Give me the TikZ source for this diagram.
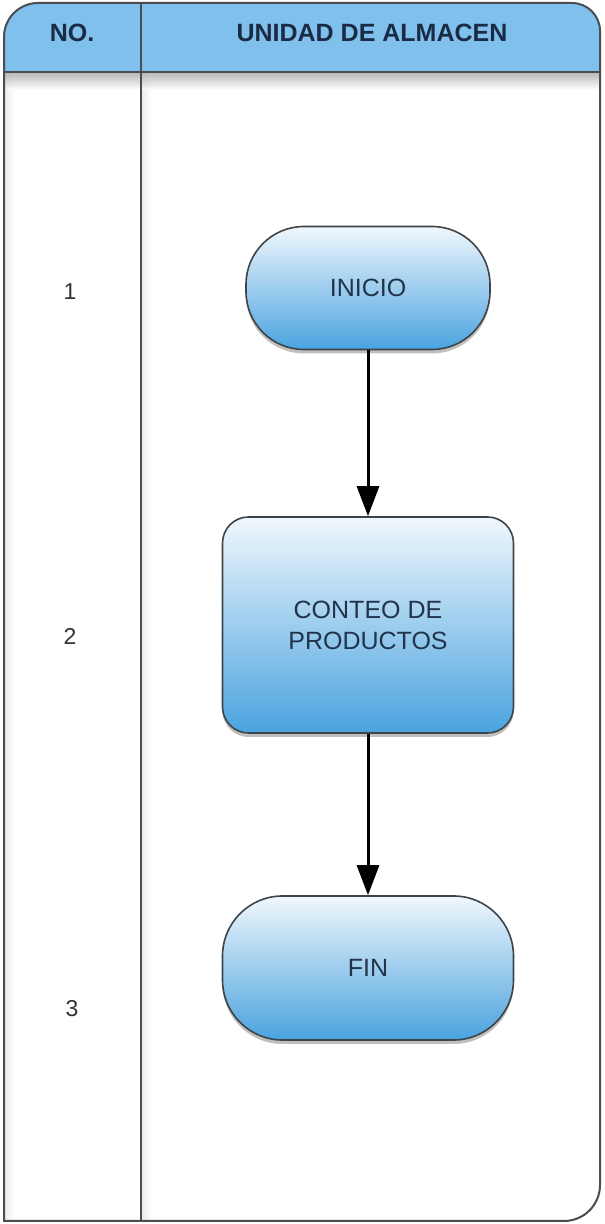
\documentclass[tikz,border=0pt]{standalone}
\usepackage{fontspec}
\setmainfont{Liberation Sans}
\usetikzlibrary{arrows.meta,shadows,positioning}
\definecolor{hdr}{HTML}{7FC0EC}
\definecolor{hdrtext}{HTML}{1B2B45}
\definecolor{nodetop}{HTML}{F0F7FD}
\definecolor{nodebot}{HTML}{4AA3DF}
\definecolor{edge}{HTML}{3F4448}
\definecolor{txt}{HTML}{22344C}
\definecolor{frame}{HTML}{4A4E52}
\tikzset{
  flowbox/.style={draw=edge, line width=1.6pt, top color=nodetop, bottom color=nodebot,
    text=txt, font=\fontsize{25}{31}\selectfont, align=center, inner sep=0pt,
    drop shadow={shadow xshift=0pt, shadow yshift=-4pt, opacity=0.25, fill=black}},
  terminal/.style={flowbox, rounded corners=58pt},
  process/.style={flowbox, rounded corners=26pt},
  flow/.style={draw=black, line width=3pt, -{Triangle[width=22pt,length=30pt]}},
  hdrlabel/.style={font=\fontsize{25}{29}\selectfont\bfseries, text=hdrtext},
  numlabel/.style={font=\fontsize{23}{27}\selectfont, text=black!80},
}
\begin{document}
\begin{tikzpicture}[x=1pt,y=1pt]
\useasboundingbox (0,0) rectangle (605,1224);
\fill[white] (0,0) rectangle (605,1224);
% header fill clipped to frame
\begin{scope}
  \clip (4,3) -- (4,1187) arc[start angle=180,end angle=90,radius=34] -- (572,1221)
        arc[start angle=90,end angle=0,radius=28] -- (600,39)
        arc[start angle=0,end angle=-90,radius=36] -- cycle;
  \shade[left color=black!8, right color=white] (4,0) rectangle (14,1152);
  \shade[left color=black!8, right color=white] (142,0) rectangle (152,1152);
  \shade[top color=black!35, bottom color=white, opacity=0.8] (0,1152) rectangle (605,1134);
  \fill[hdr] (0,1152) rectangle (605,1224);
\end{scope}
% header bottom line and column divider
\draw[frame, line width=1.8pt] (4,1152) -- (600,1152);
\draw[frame, line width=1.8pt] (141,3) -- (141,1221);
% outer frame
\draw[frame, line width=2pt] (4,3) -- (4,1187) arc[start angle=180,end angle=90,radius=34] -- (572,1221)
        arc[start angle=90,end angle=0,radius=28] -- (600,39)
        arc[start angle=0,end angle=-90,radius=36] -- cycle;
% header labels
\node[hdrlabel] (hno) at (72,1191) {NO.};
\node[hdrlabel] (hunit) at (372,1191) {UNIDAD DE ALMACEN};
% row numbers
\node[numlabel] (n1) at (70,932) {1};
\node[numlabel] (n2) at (70,588) {2};
\node[numlabel] (n3) at (72,215) {3};
% flow nodes
\node[terminal, minimum width=244pt, minimum height=123pt] (inicio) at (368,936) {INICIO};
\node[process, minimum width=291pt, minimum height=216pt] (conteo) at (368,599) {CONTEO DE\\PRODUCTOS};
\node[terminal, rounded corners=60pt, minimum width=291pt, minimum height=144pt] (fin) at (368,256) {FIN};
% connectors
\draw[flow] (inicio.south) -- (conteo.north);
\draw[flow] (conteo.south) -- (fin.north);
\end{tikzpicture}
\end{document}
